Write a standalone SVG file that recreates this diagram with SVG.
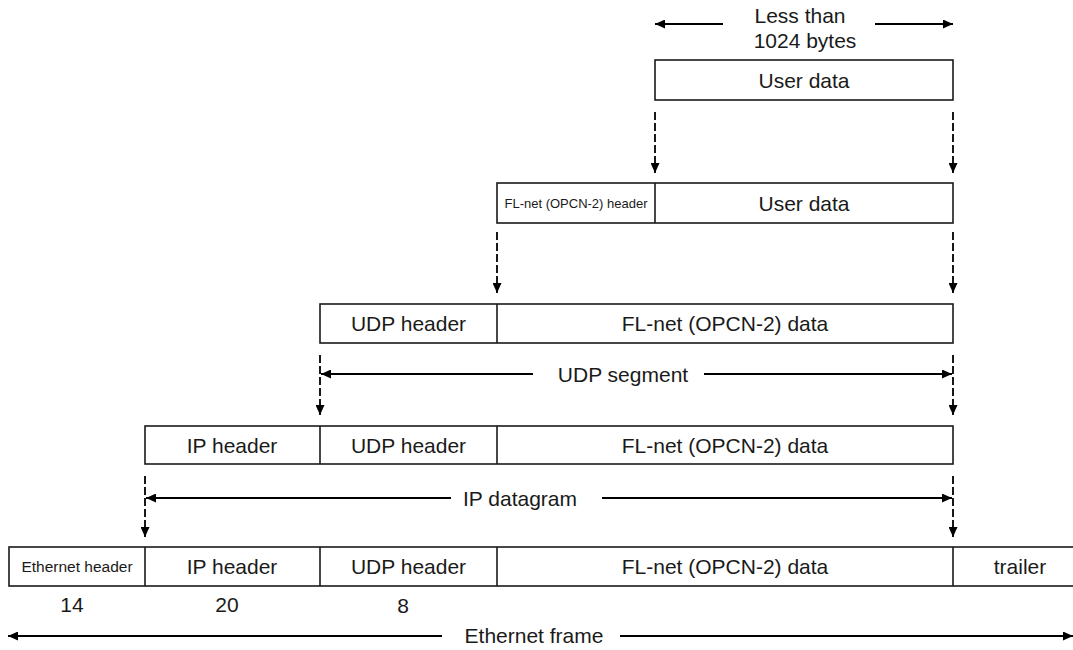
<svg xmlns="http://www.w3.org/2000/svg" width="1073" height="650" viewBox="0 0 1073 650">
<style>
  .box { fill: #ffffff; stroke: #1a1a1a; stroke-width: 1.6; }
  .div { stroke: #1a1a1a; stroke-width: 1.6; }
  text { font-family: "Liberation Sans", Arial, sans-serif; fill: #1a1a1a; text-anchor: middle; }
  .t { font-size: 21px; }
  .s1 { font-size: 15.5px; }
  .s2 { font-size: 13px; }
  .dash { stroke: #000; stroke-width: 1.8; stroke-dasharray: 8 3; fill: none; marker-end: url(#ah); }
  .dim { stroke: #000; stroke-width: 2; fill: none; marker-end: url(#ah); }
</style>
<defs>
  <marker id="ah" markerUnits="userSpaceOnUse" markerWidth="11" markerHeight="9" refX="10" refY="4.5" orient="auto">
    <path d="M0,0 L10,4.5 L0,9 z" fill="#000"/>
  </marker>
</defs>
<rect width="1073" height="650" fill="#ffffff"/>

<g id="user-data-row">
  <rect class="box" x="655" y="60" width="298" height="40"/>
  <text class="t" x="804" y="88">User data</text>
</g>

<g id="flnet-row">
  <rect class="box" x="497" y="183" width="456" height="40"/>
  <line class="div" x1="655" y1="183" x2="655" y2="223"/>
  <text class="s2" x="576" y="208">FL-net (OPCN-2) header</text>
  <text class="t" x="804" y="211">User data</text>
</g>

<g id="udp-row">
  <rect class="box" x="320" y="304" width="633" height="39"/>
  <line class="div" x1="497" y1="304" x2="497" y2="343"/>
  <text class="t" x="408.5" y="331">UDP header</text>
  <text class="t" x="725" y="331">FL-net (OPCN-2) data</text>
</g>

<g id="ip-row">
  <rect class="box" x="145" y="426" width="808" height="38"/>
  <line class="div" x1="320" y1="426" x2="320" y2="464"/>
  <line class="div" x1="497" y1="426" x2="497" y2="464"/>
  <text class="t" x="232" y="452.5">IP header</text>
  <text class="t" x="408.5" y="452.5">UDP header</text>
  <text class="t" x="725" y="452.5">FL-net (OPCN-2) data</text>
</g>

<g id="ethernet-row">
  <rect class="box" x="9" y="547" width="1090" height="39"/>
  <line class="div" x1="145" y1="547" x2="145" y2="586"/>
  <line class="div" x1="320" y1="547" x2="320" y2="586"/>
  <line class="div" x1="497" y1="547" x2="497" y2="586"/>
  <line class="div" x1="953" y1="547" x2="953" y2="586"/>
  <text class="s1" x="77" y="572">Ethernet header</text>
  <text class="t" x="232" y="574">IP header</text>
  <text class="t" x="408.5" y="574">UDP header</text>
  <text class="t" x="725" y="574">FL-net (OPCN-2) data</text>
  <text class="t" x="1020" y="574">trailer</text>
</g>

<g id="sizes">
  <text class="t" x="72" y="612">14</text>
  <text class="t" x="227" y="612">20</text>
  <text class="t" x="403" y="613">8</text>
</g>

<g id="labels">
  <text class="t" x="800" y="23">Less than</text>
  <text class="t" x="805" y="48">1024 bytes</text>
  <text class="t" x="623" y="381.5">UDP segment</text>
  <text class="t" x="520" y="505.5">IP datagram</text>
  <text class="t" x="534" y="643">Ethernet frame</text>
</g>

<g id="connectors">
  <line class="dim" x1="723" y1="24" x2="655" y2="24"/>
  <line class="dim" x1="875" y1="24" x2="953" y2="24"/>

  <line class="dash" x1="655" y1="112" x2="655" y2="173"/>
  <line class="dash" x1="953" y1="112" x2="953" y2="173"/>

  <line class="dash" x1="497" y1="232" x2="497" y2="293"/>
  <line class="dash" x1="953" y1="232" x2="953" y2="293"/>

  <line class="dash" x1="320" y1="355" x2="320" y2="415"/>
  <line class="dash" x1="953" y1="355" x2="953" y2="415"/>
  <line class="dim" x1="533" y1="374" x2="321" y2="374"/>
  <line class="dim" x1="704" y1="374" x2="952" y2="374"/>

  <line class="dash" x1="145" y1="476" x2="145" y2="537"/>
  <line class="dash" x1="953" y1="476" x2="953" y2="537"/>
  <line class="dim" x1="451" y1="498" x2="146" y2="498"/>
  <line class="dim" x1="602" y1="498" x2="952" y2="498"/>

  <line class="dim" x1="442" y1="636" x2="8" y2="636"/>
  <line class="dim" x1="620" y1="636" x2="1073" y2="636"/>
</g>
</svg>
